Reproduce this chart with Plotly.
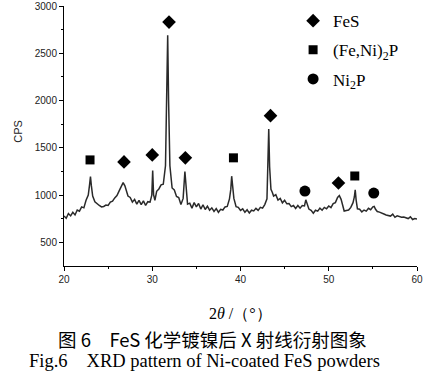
import plotly.graph_objects as go

# ---- XRD trace (2theta in degrees, intensity in CPS) ----
two_theta = [
    20.0, 20.25, 20.5, 20.75, 21.0, 21.25, 21.5, 21.75, 22.0, 22.25, 22.5, 22.75, 22.9, 23.0, 23.1,
    23.25, 23.5, 23.75, 24.0, 24.25, 24.5, 24.75, 25.0, 25.25, 25.5, 25.75, 26.0, 26.25, 26.5, 26.7,
    26.9, 27.0, 27.25, 27.5, 27.75, 28.0, 28.25, 28.5, 28.75, 29.0, 29.25, 29.5, 29.75, 29.95, 30.05,
    30.15, 30.3, 30.5, 30.75, 31.0, 31.25, 31.5, 31.65, 31.75, 31.85, 32.0, 32.25, 32.5, 32.75, 33.0,
    33.25, 33.5, 33.7, 33.8, 34.0, 34.25, 34.5, 34.75, 35.0, 35.25, 35.5, 35.75, 36.0, 36.25, 36.5,
    36.75, 37.0, 37.25, 37.5, 37.75, 38.0, 38.25, 38.5, 38.75, 38.9, 39.0, 39.1, 39.25, 39.5, 39.75,
    40.0, 40.25, 40.5, 40.75, 41.0, 41.25, 41.5, 41.75, 42.0, 42.25, 42.5, 42.75, 43.0, 43.1, 43.2,
    43.3, 43.45, 43.6, 43.75, 44.0, 44.25, 44.5, 44.75, 45.0, 45.25, 45.5, 45.75, 46.0, 46.25, 46.5,
    46.75, 47.0, 47.25, 47.4, 47.55, 47.75, 48.0, 48.25, 48.5, 48.75, 49.0, 49.25, 49.5, 49.75, 50.0,
    50.25, 50.5, 50.75, 51.0, 51.2, 51.4, 51.6, 51.75, 52.0, 52.25, 52.5, 52.75, 52.9, 53.0, 53.1,
    53.25, 53.5, 53.75, 54.0, 54.25, 54.5, 54.75, 55.0, 55.15, 55.3, 55.5, 55.75, 56.0, 56.25, 56.5,
    56.75, 57.0, 57.25, 57.5, 57.75, 58.0, 58.25, 58.5, 58.75, 59.0, 59.25, 59.5, 59.75, 60.0,
]
intensity = [
    780, 755, 805, 780, 818, 790, 842, 830, 875, 865, 945, 1000, 1110, 1195, 1100,
    990, 930, 905, 890, 875, 880, 895, 890, 925, 935, 970, 995, 1045, 1085, 1132,
    1098, 1070, 990, 975, 925, 955, 905, 945, 900, 938, 890, 930, 925, 1000, 1260,
    1005, 945, 1040, 1065, 1108, 1115, 1310, 2200, 2690, 2000, 1310, 1075, 1055, 985, 975,
    900, 965, 1250, 1095, 905, 915, 862, 920, 875, 912, 852, 898, 848, 882, 840,
    865, 828, 858, 818, 850, 842, 875, 880, 960, 1060, 1200, 1075, 965, 878, 870,
    838, 855, 818, 845, 810, 840, 832, 860, 838, 870, 862, 900, 960, 1300, 1700,
    1300, 1060, 1030, 990, 1005, 948, 965, 918, 945, 908, 910, 878, 890, 858, 890,
    862, 890, 885, 950, 900, 852, 838, 808, 840, 830, 862, 840, 870, 855, 885,
    868, 910, 920, 975, 995, 955, 880, 832, 838, 842, 870, 920, 980, 1055, 950,
    855, 850, 822, 842, 830, 860, 845, 875, 880, 850, 826, 820, 806, 800, 790,
    785, 778, 798, 765, 780, 772, 765, 768, 760, 752, 770, 742, 752, 748,
]

# ---- phase markers ----
fes_x = [26.8, 30.0, 31.9, 33.75, 43.4, 51.1]
fes_y = [1351, 1425, 2830, 1394, 1840, 1128]
fenip_x = [22.95, 39.2, 52.95]
fenip_y = [1372, 1394, 1202]
ni2p_x = [47.3, 55.1]
ni2p_y = [1043, 1021]

x_ticks = [20, 30, 40, 50, 60]
y_ticks = [500, 1000, 1500, 2000, 2500, 3000]

fig = go.Figure()
fig.add_trace(go.Scatter(x=two_theta, y=intensity, mode="lines",
                         line=dict(color="#2a2a2a", width=1.5), showlegend=False,
                         hoverinfo="skip"))
fig.add_trace(go.Scatter(x=fes_x, y=fes_y, mode="markers", name="FeS", legendgroup="a",
                         marker=dict(symbol="diamond", size=10.5, color="black")))
fig.add_trace(go.Scatter(x=fenip_x, y=fenip_y, mode="markers", name="(Fe,Ni)<sub>2</sub>P",
                         legendgroup="b",
                         marker=dict(symbol="square", size=9, color="black")))
fig.add_trace(go.Scatter(x=ni2p_x, y=ni2p_y, mode="markers", name="Ni<sub>2</sub>P",
                         legendgroup="c",
                         marker=dict(symbol="circle", size=11, color="black")))

axis_font = dict(family="Liberation Sans, Arial, sans-serif", size=10, color="#222")
fig.update_xaxes(range=[20, 60], tickvals=x_ticks, ticks="outside", ticklen=4, tickwidth=1,
                 tickcolor="black", showline=True, linecolor="black", linewidth=1,
                 showgrid=False, zeroline=False, tickfont=axis_font,
                 minor=dict(dtick=5, ticks="outside", ticklen=2, tickcolor="black"))
fig.update_yaxes(range=[250, 3000], tickvals=y_ticks, ticks="outside", ticklen=4, tickwidth=1,
                 tickcolor="black", showline=True, linecolor="black", linewidth=1,
                 showgrid=False, zeroline=False, tickfont=axis_font,
                 minor=dict(tickvals=[750, 1250, 1750, 2250, 2750], ticks="outside",
                            ticklen=2, tickcolor="black"))

serif = "Liberation Serif, Times New Roman, serif"
fig.update_layout(
    width=426, height=384,
    margin=dict(l=64, r=9, t=6, b=118, autoexpand=False),
    paper_bgcolor="white", plot_bgcolor="white",
    showlegend=True,
    legend=dict(x=0.649, y=1.011, xanchor="left", yanchor="top",
                font=dict(family=serif, size=17, color="black"),
                bgcolor="rgba(0,0,0,0)", tracegroupgap=4, itemwidth=30),
    annotations=[
        dict(text="CPS", xref="paper", yref="paper", x=-0.153, y=0.52, textangle=-90,
             showarrow=False, font=dict(family="Liberation Sans, Arial, sans-serif",
                                         size=11, color="#222")),
        dict(text="2<i>θ</i> /（°）", xref="paper", yref="paper", x=0.5, y=-0.181,
             yanchor="middle", showarrow=False,
             font=dict(family=serif, size=16, color="black")),
        dict(text="图 6　FeS 化学镀镍后 X 射线衍射图象", xref="paper", yref="paper",
             x=0.422, y=-0.279, yanchor="middle", showarrow=False,
             font=dict(family="Noto Sans CJK SC, sans-serif", size=18.5, color="black")),
        dict(text="Fig.6　XRD pattern of Ni-coated FeS powders", xref="paper",
             yref="paper", x=0.399, y=-0.366, yanchor="middle", showarrow=False,
             font=dict(family=serif, size=18.5, color="black")),
    ],
)

fig.write_html("out.html", config={"displayModeBar": False},
               post_script="document.body.style.margin='0';")
